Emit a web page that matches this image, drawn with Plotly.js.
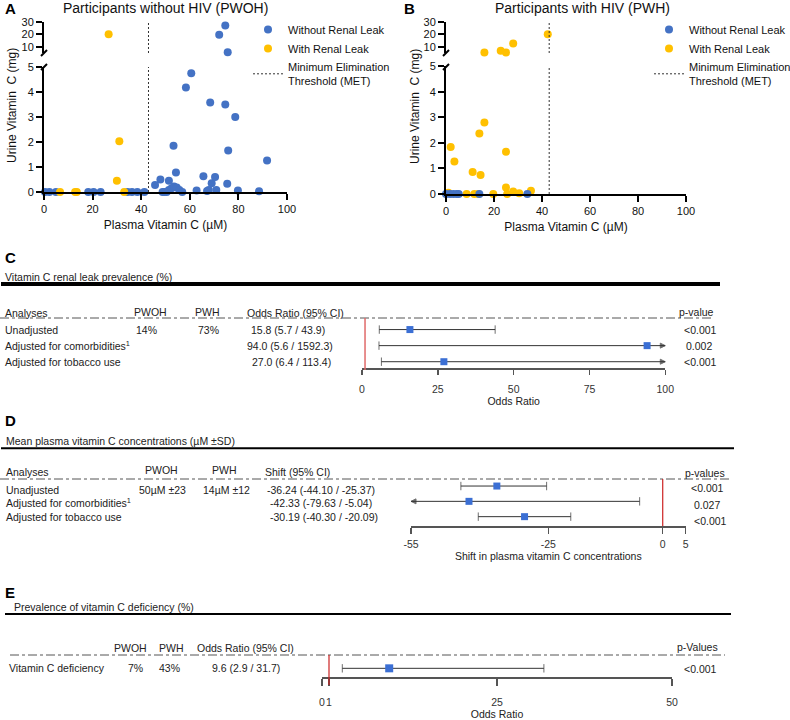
<!DOCTYPE html>
<html><head><meta charset="utf-8">
<script src="https://cdn.plot.ly/plotly-3.0.1.min.js"></script>
<style>html,body{margin:0;padding:0;background:#fff;overflow:hidden}</style>
</head><body><div id="chart" style="width:790px;height:720px"></div>
<script>
// ---------- Panels A/B data (plasma µM, urine mg) ----------
const pwohNoLeakX = [0.4,2.2,4.9,18.2,20.4,23.3,34.4,36.2,38.4,41.3,45.7,47.9,51.4,54.3,53.3,48.8,49.5,50.5,51.4,52.5,53.5,54.6,55.7,56.9,62.8,65.6,67.1,67.8,69.0,70.4,70.9,75.8,75.4,79.8,88.5,91.8,78.7,74.6,68.4,58.4,60.6,75.6,72.1,74.6];
const pwohNoLeakY = [0,0,0,0,0,0,0,0,0,0,0.28,0.5,0.45,0.78,1.85,0,0,0,0.08,0.15,0.22,0.18,0.08,0,0.06,0.63,0.04,0.08,0.35,0.6,0.08,1.66,0.33,0.06,0.03,1.26,3.0,3.5,3.58,4.18,4.75,5.5,19.5,27];
const pwohLeakX = [6.6,12.8,13.5,30.0,31.0,33.0,26.6];
const pwohLeakY = [0,0,0,0.45,2.03,0,20];
const pwhNoLeakX = [0,1.7,3.1,4.5,5.3,13.9,33.9];
const pwhNoLeakY = [0,0,0,0,0,0,0];
const pwhLeakX = [1.0,1.95,3.5,8.6,11.1,11.8,13.5,13.9,14.4,16.0,19.7,25.0,25.0,25.5,28.0,30.5,35.4,16.0,22.8,25.0,28.0,42.4];
const pwhLeakY = [0.05,1.84,1.27,0,0.86,0,0,2.37,0.74,2.8,0,1.65,0.25,0,0.1,0.03,0.13,5.3,6.8,5.4,12.6,20];
const metValue = 43;
const plasmaTicks = [0,20,40,60,80,100];
const urineTicksLow = [0,1,2,3,4,5];
const urineTicksHigh = [10,20,30];
const seriesNames = ['Without Renal Leak','With Renal Leak','Minimum Elimination<br>Threshold (MET)'];

// ---------- Panel C ----------
const leakAnalyses = ['Unadjusted','Adjusted for comorbidities<sup>1</sup>','Adjusted for tobacco use'];
const leakPWOH = ['14%','',''];
const leakPWH = ['73%','',''];
const leakOR = [15.8, 94.0, 27.0];
const leakLo = [5.7, 5.6, 6.4];
const leakHi = [43.9, 1592.3, 113.4];
const leakP = ['<0.001','0.002','<0.001'];
const leakTicks = [0,25,50,75,100];

// ---------- Panel D ----------
const shiftAnalyses = ['Unadjusted','Adjusted for comorbidities<sup>1</sup>','Adjusted for tobacco use'];
const shiftPWOH = ['50µM ±23','',''];
const shiftPWH = ['14µM ±12','',''];
const shiftEst = [-36.24, -42.33, -30.19];
const shiftLo = [-44.10, -79.63, -40.30];
const shiftHi = [-25.37, -5.04, -20.09];
const shiftP = ['<0.001','0.027','<0.001'];
const shiftTicks = [-55,-25,0,5];

// ---------- Panel E ----------
const defAnalyses = ['Vitamin C deficiency'];
const defPWOH = ['7%'];
const defPWH = ['43%'];
const defOR = [9.6];
const defLo = [2.9];
const defHi = [31.7];
const defP = ['<0.001'];
const defTicks = [0,1,25,50];

// ---------- helpers ----------
const W = 790, H = 720;
const fx = p => p / W;
const fy = p => 1 - p / H;
const FONT = 'Arial, "Liberation Sans", sans-serif';
const BLUE = '#4472C4', YELLOW = '#FFC000', SQ = '#3b6fd4';

const traces = [];
function splitSeg(xs, ys, upper) {
  const ox = [], oy = [];
  xs.forEach((x, i) => { if ((ys[i] > 5) === upper) { ox.push(x); oy.push(ys[i]); } });
  return {x: ox, y: oy};
}
function scatterPanel(xa, yLow, yHigh, noX, noY, lkX, lkY, legendId, yellowFirst) {
  const groups = [
    {name: seriesNames[0], x: noX, y: noY, c: BLUE, rank: 1},
    {name: seriesNames[1], x: lkX, y: lkY, c: YELLOW, rank: 2}
  ];
  if (yellowFirst) groups.reverse();
  groups.forEach(g => {
    [false, true].forEach(up => {
      const s = splitSeg(g.x, g.y, up);
      traces.push({type: 'scatter', mode: 'markers', x: s.x, y: s.y, xaxis: xa, yaxis: up ? yHigh : yLow,
        name: g.name, legend: legendId, legendrank: g.rank, legendgroup: legendId + g.rank,
        showlegend: !up, cliponaxis: false, hoverinfo: 'skip',
        marker: {color: g.c, size: 8}});
    });
  });
  [[0, 5, yLow, true], [5, 30, yHigh, false]].forEach(([a, b, ya, leg]) => {
    traces.push({type: 'scatter', mode: 'lines', x: [metValue, metValue], y: [a, b], xaxis: xa, yaxis: ya,
      name: seriesNames[2], legend: legendId, legendrank: 3, legendgroup: legendId + 'met', showlegend: leg,
      cliponaxis: false, hoverinfo: 'skip', line: {color: '#333', width: 1, dash: '2px,2px'}});
  });
}
scatterPanel('x', 'y', 'y2', pwohNoLeakX, pwohNoLeakY, pwohLeakX, pwohLeakY, 'legend', false);
scatterPanel('x2', 'y3', 'y4', pwhNoLeakX, pwhNoLeakY, pwhLeakX, pwhLeakY, 'legend2', true);

function forest(xa, ya, est, lo, hi, rMin, rMax, sqSize) {
  const n = est.length;
  est.forEach((v, i) => {
    const row = n - i;
    const l = Math.max(lo[i], rMin), h = Math.min(hi[i], rMax);
    traces.push({type: 'scatter', mode: 'lines+markers', x: [l, h], y: [row, row], xaxis: xa, yaxis: ya,
      showlegend: false, cliponaxis: false, hoverinfo: 'skip',
      line: {color: '#333', width: 1},
      marker: {symbol: [lo[i] < rMin ? 'arrow-left' : 'line-ns', hi[i] > rMax ? 'arrow-right' : 'line-ns'],
        size: [lo[i] < rMin ? 5 : 6, hi[i] > rMax ? 5 : 6], color: '#333', line: {color: '#333', width: 1}}});
  });
  traces.push({type: 'scatter', mode: 'markers', x: est, y: est.map((v, i) => n - i), xaxis: xa, yaxis: ya,
    showlegend: false, cliponaxis: false, hoverinfo: 'skip',
    marker: {symbol: 'square', size: sqSize, color: SQ}});
}
forest('x3', 'y5', leakOR, leakLo, leakHi, 0, 100, 7);
forest('x4', 'y6', shiftEst, shiftLo, shiftHi, -55, 5, 7);
forest('x5', 'y7', defOR, defLo, defHi, 0, 50, 8);

// ---------- axes ----------
const scatterX = (d, anchor) => ({domain: d, anchor: anchor, range: [0, 100], tickvals: plasmaTicks,
  showgrid: false, zeroline: false, showline: true, linecolor: '#000', linewidth: 2,
  ticks: 'outside', ticklen: 6, tickwidth: 2, tickcolor: '#000', tickangle: 0,
  tickfont: {size: 11, color: '#111'},
  title: {text: 'Plasma Vitamin C (µM)', font: {size: 12, color: '#111'}, standoff: 6}});
const scatterY = (d, anchor, range, tv) => ({domain: d, anchor: anchor, range: range, tickvals: tv,
  showgrid: false, zeroline: false, showline: true, linecolor: '#000', linewidth: 2,
  ticks: 'outside', ticklen: 6, tickwidth: 2, tickcolor: '#000', tickfont: {size: 11, color: '#111'}});
const forestX = (d, anchor, range, tv, title, tl, so, ts) => ({domain: d, anchor: anchor, range: range,
  tickmode: 'array', tickvals: tv, ticktext: tv.map(v => String(v)),
  showgrid: false, zeroline: false, showline: true, linecolor: '#555', linewidth: 1.5,
  ticks: 'outside', ticklen: tl, tickwidth: 1.5, tickcolor: '#555', tickangle: 0, ticklabelstandoff: so,
  tickfont: {size: 10.5, color: '#333'},
  title: {text: title, font: {size: 10.5, color: '#222'}, standoff: ts}});
const hiddenY = (d, anchor, range) => ({domain: d, anchor: anchor, range: range, visible: false, fixedrange: true});

const layout = {
  width: W, height: H, margin: {l: 0, r: 0, t: 0, b: 0, autoexpand: false},
  paper_bgcolor: '#fff', plot_bgcolor: 'rgba(0,0,0,0)',
  font: {family: FONT, color: '#111'},
  xaxis: scatterX([fx(44), fx(287)], 'y'),
  yaxis: scatterY([fy(192), fy(67)], 'x', [0, 5], urineTicksLow),
  yaxis2: scatterY([fy(53), fy(21.7)], 'x', [5, 30], urineTicksHigh),
  xaxis2: scatterX([fx(446), fx(686)], 'y3'),
  yaxis3: scatterY([fy(194), fy(66.3)], 'x2', [0, 5], urineTicksLow),
  yaxis4: scatterY([fy(53), fy(21.7)], 'x2', [5, 30], urineTicksHigh),
  xaxis3: forestX([fx(362), fx(665.3)], 'y5', [0, 100], leakTicks, 'Odds Ratio', 5, 6, 1),
  yaxis5: hiddenY([fy(368.3), fy(318)], 'x3', [0.59, 3.72]),
  xaxis4: forestX([fx(411), fx(685.6)], 'y6', [-55, 5], shiftTicks, 'Shift in plasma vitamin C concentrations', 6, 2, 0),
  yaxis6: hiddenY([fy(526), fy(479)], 'x4', [0.39, 3.46]),
  xaxis5: forestX([fx(322), fx(672)], 'y7', [0, 50], defTicks, 'Odds Ratio', 7, 8, 3),
  yaxis7: hiddenY([fy(677.3), fy(655)], 'x5', [0.44, 1.83]),
  legend: {x: fx(248), y: fy(15), xanchor: 'left', yanchor: 'top', bgcolor: 'rgba(0,0,0,0)',
    font: {size: 11, color: '#111'}, tracegroupgap: 0, itemwidth: 30},
  legend2: {x: fx(649), y: fy(15), xanchor: 'left', yanchor: 'top', bgcolor: 'rgba(0,0,0,0)',
    font: {size: 11, color: '#111'}, tracegroupgap: 0, itemwidth: 30},
  shapes: [], annotations: []
};

function txt(text, x, y, o) {
  o = o || {};
  layout.annotations.push({text: text, xref: 'paper', yref: 'paper', x: fx(x), y: fy(y),
    xanchor: o.xa || 'left', yanchor: 'middle', showarrow: false, textangle: o.angle || 0,
    font: {family: FONT, size: o.size || 10.5, color: o.color || '#222', weight: o.bold ? 'bold' : 'normal'}});
}
function hline(x0, x1, y, w, dash, color) {
  layout.shapes.push({type: 'line', xref: 'paper', yref: 'paper', x0: fx(x0), x1: fx(x1), y0: fy(y), y1: fy(y),
    line: {color: color || '#000', width: w, dash: dash || 'solid'}});
}
function seg(x0, y0, x1, y1) {
  layout.shapes.push({type: 'line', xref: 'paper', yref: 'paper', x0: fx(x0), x1: fx(x1), y0: fy(y0), y1: fy(y1),
    line: {color: '#000', width: 2}});
}
function refLine(xa, v, y0, y1, color, w) {
  layout.shapes.push({type: 'line', xref: xa, yref: 'paper', x0: v, x1: v, y0: fy(y1), y1: fy(y0),
    line: {color: color, width: w}});
}

// ---------- A / B text ----------
txt('A', 3, 8.5, {size: 15, bold: true, color: '#000'});
txt('Participants without HIV (PWOH)', 165, 8.5, {xa: 'center', size: 14, color: '#111'});
txt('Urine Vitamin\u00a0 C (mg)', 12, 106, {xa: 'center', size: 12, angle: -90, color: '#111'});
txt('B', 402, 8.5, {size: 15, bold: true, color: '#000'});
txt('Participants with HIV (PWH)', 582, 8.5, {xa: 'center', size: 14, color: '#111'});
txt('Urine Vitamin\u00a0 C (mg)', 415, 107, {xa: 'center', size: 12, angle: -90, color: '#111'});
// axis break marks
[44, 446].forEach(x => { seg(x - 3, 56, x + 3, 50); seg(x - 3, 70, x + 3, 64); });

// ---------- C ----------
txt('C', 3, 257, {size: 15, bold: true, color: '#000'});
txt('Vitamin C renal leak prevalence (%)', 3, 277);
hline(1, 720, 284, 4);
txt('Analyses', 3, 312.7);
txt('PWOH', 150, 312, {xa: 'center'});
txt('PWH', 207, 312, {xa: 'center'});
txt('Odds Ratio (95% CI)', 245, 313);
txt('p-value', 677, 311.7);
hline(0, 713, 318, 1, 'dashdot', '#555');
const cRowsY = [329.5, 345.5, 361.7];
const cCiX = [249, 245, 250];
const cPX = [700, 698.7, 700];
leakAnalyses.forEach((a, i) => {
  txt(a, 3, cRowsY[i]);
  if (leakPWOH[i]) txt(leakPWOH[i], 146, cRowsY[i], {xa: 'center'});
  if (leakPWH[i]) txt(leakPWH[i], 208, cRowsY[i], {xa: 'center'});
  txt(leakOR[i].toFixed(1) + ' (' + leakLo[i].toFixed(1) + ' / ' + leakHi[i].toFixed(1) + ')', cCiX[i], cRowsY[i]);
  txt(leakP[i], cPX[i], cRowsY[i], {xa: 'center'});
});
refLine('x3', 1, 318, 370, '#e06a6a', 1.5);

// ---------- D ----------
txt('D', 3, 420, {size: 15, bold: true, color: '#000'});
txt('Mean plasma vitamin C concentrations (µM ±SD)', 4, 441);
hline(1, 734, 448.3, 2);
txt('Analyses', 4, 471.5);
txt('PWOH', 161.7, 470, {xa: 'center'});
txt('PWH', 224, 470, {xa: 'center'});
txt('Shift (95% CI)', 263, 471.5);
txt('p-values', 683.3, 473);
hline(0, 730, 479, 1, 'dashdot', '#555');
const dRowsY = [489.7, 502.5, 517];
const dCiX = [265.3, 267.7, 267.7];
const dPX = [707, 706.5, 710.5];
const dPY = [488, 505, 520.7];
shiftAnalyses.forEach((a, i) => {
  txt(a, 4, dRowsY[i]);
  if (shiftPWOH[i]) txt(shiftPWOH[i], 162.5, dRowsY[i], {xa: 'center'});
  if (shiftPWH[i]) txt(shiftPWH[i], 227, dRowsY[i], {xa: 'center'});
  txt(shiftEst[i].toFixed(2) + ' (' + shiftLo[i].toFixed(2) + ' / ' + shiftHi[i].toFixed(2) + ')', dCiX[i], dRowsY[i]);
  txt(shiftP[i], dPX[i], dPY[i], {xa: 'center'});
});
refLine('x4', 0, 479, 526, '#cc2222', 1.2);

// ---------- E ----------
txt('E', 3, 592, {size: 15, bold: true, color: '#000'});
txt('Prevalence of vitamin C deficiency (%)', 12, 607.3);
hline(5, 731, 614, 2);
txt('PWOH', 130, 648, {xa: 'center'});
txt('PWH', 171, 648, {xa: 'center'});
txt('Odds Ratio (95% CI)', 245, 648, {xa: 'center'});
txt('p-Values', 697.5, 647.3, {xa: 'center'});
hline(10, 725, 655, 1, 'dashdot', '#555');
defAnalyses.forEach((a, i) => {
  txt(a, 7, 668.3);
  txt(defPWOH[i], 135.5, 668.3, {xa: 'center'});
  txt(defPWH[i], 169, 668.3, {xa: 'center'});
  txt(defOR[i].toFixed(1) + ' (' + defLo[i].toFixed(1) + ' / ' + defHi[i].toFixed(1) + ')', 246, 668.3, {xa: 'center'});
  txt(defP[i], 700.3, 668.7, {xa: 'center'});
});
refLine('x5', 1, 655, 685, '#cc2222', 1.2);

Plotly.newPlot('chart', traces, layout, {staticPlot: true, displayModeBar: false});
</script>
</body></html>
